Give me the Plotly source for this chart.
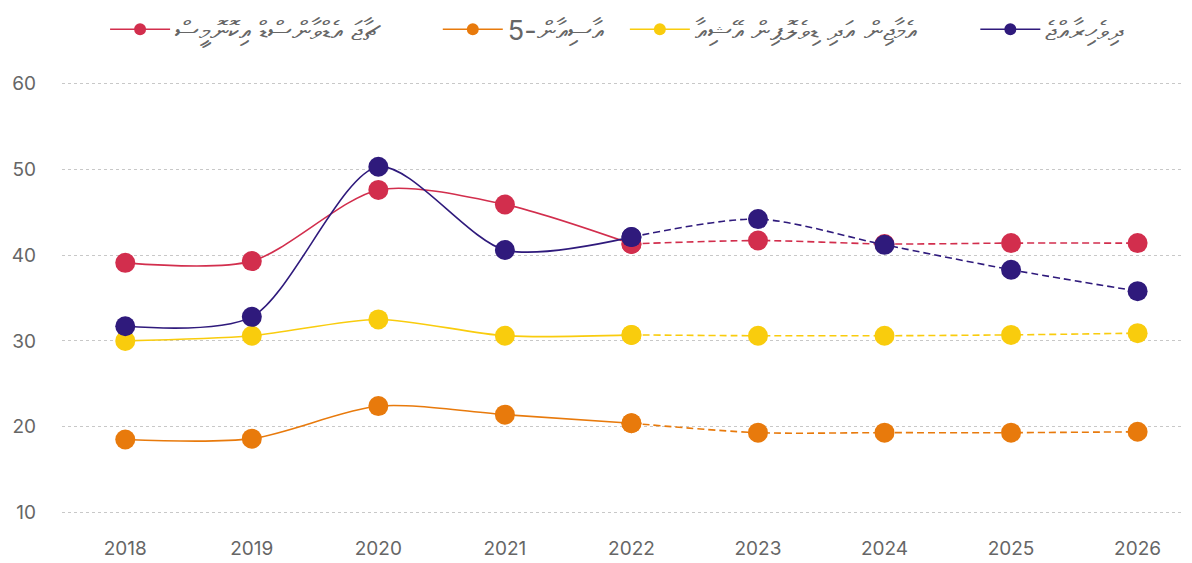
import plotly.graph_objects as go

years = [2018, 2019, 2020, 2021, 2022, 2023, 2024, 2025, 2026]
split_year = 2022

names = [
    "ޗާޖަ އެޑްވާންސްޑް އިކޮނޮމީސް",
    "އާސިއާން-5",
    "އެމާޖިން އަދި ޑިވެލޮޕިން އޭޝިއާ",
    "ދިވެހިރާއްޖެ",
]
advanced = [39.1, 39.3, 47.6, 45.9, 41.3, 41.7, 41.3, 41.4, 41.4]
asean5 = [18.5, 18.6, 22.4, 21.4, 20.4, 19.3, 19.3, 19.3, 19.4]
em_asia = [30.0, 30.6, 32.5, 30.6, 30.7, 30.6, 30.6, 30.7, 30.9]
maldives = [31.7, 32.8, 50.3, 40.6, 42.1, 44.2, 41.2, 38.3, 35.8]
colors = ["#d22e4d", "#e87a0c", "#f9cc0d", "#2f1a7c"]
series = [advanced, asean5, em_asia, maldives]

# legend anchor positions (container fraction)
legend_x = [0.082, 0.363, 0.521, 0.817]
legend_ids = ["legend", "legend2", "legend3", "legend4"]

W, H = 1184, 555

fig = go.Figure()
k = years.index(split_year)
for name, vals, col, lid in zip(names, series, colors, legend_ids):
    fig.add_trace(go.Scatter(
        x=years[:k + 1], y=vals[:k + 1], name=name, mode="lines+markers",
        line=dict(color=col, width=1.6, shape="spline", smoothing=0.8),
        marker=dict(size=20, color=col), showlegend=False, cliponaxis=False,
    ))
    fig.add_trace(go.Scatter(
        x=years[k:], y=vals[k:], name=name, mode="lines+markers",
        line=dict(color=col, width=1.6, shape="spline", smoothing=0.8, dash="7px,4px"),
        marker=dict(size=20, color=col), showlegend=False, cliponaxis=False,
    ))
    fig.add_trace(go.Scatter(
        x=[None], y=[None], name=name, mode="lines+markers",
        line=dict(color=col, width=1.6), marker=dict(size=12, color=col),
        showlegend=True, legend=lid,
    ))

layout_legends = {}
for lid, lx in zip(legend_ids, legend_x):
    layout_legends[lid] = dict(
        orientation="h", x=lx, xanchor="left", y=0.961, yanchor="middle",
        xref="container", yref="container", font=dict(size=27), itemwidth=60,
        bgcolor="rgba(0,0,0,0)", borderwidth=0,
    )

fig.update_layout(
    width=W, height=H,
    margin=dict(l=54, r=0, t=73, b=48),
    plot_bgcolor="white", paper_bgcolor="white",
    font=dict(family="Inter, Open Sans, sans-serif", color="#666666", size=18),
    showlegend=True,
    xaxis=dict(range=[2017.5, 2026.43], tickvals=years, ticktext=[str(y) for y in years],
               showgrid=False, zeroline=False, showline=False, automargin=False,
               ticks="outside", ticklen=16, tickcolor="rgba(0,0,0,0)",
               tickfont=dict(size=19, color="#666666")),
    yaxis=dict(range=[9.7, 60.3], tickvals=[10, 20, 30, 40, 50, 60],
               showgrid=True, gridcolor="#c8c8c8", griddash="dot", gridwidth=1,
               zeroline=False, showline=False, ticklabelstandoff=25, automargin=False,
               tickfont=dict(size=19, color="#666666")),
    **layout_legends,
)

fig.write_html("out.html")
